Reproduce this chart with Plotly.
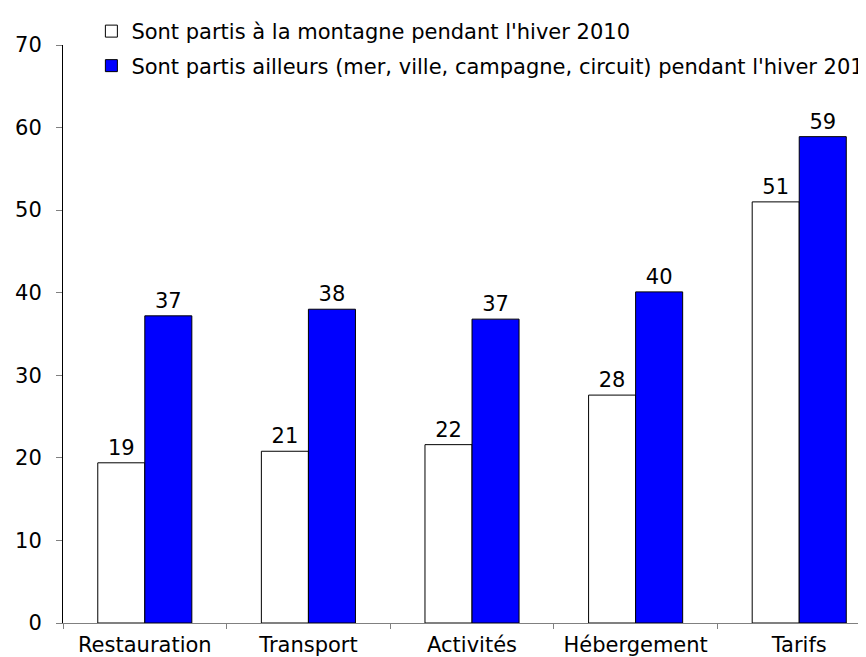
import plotly.graph_objects as go

categories = ["Restauration", "Transport", "Activités", "Hébergement", "Tarifs"]
montagne = [19.4, 20.8, 21.6, 27.6, 51.0]
ailleurs = [37.2, 38.0, 36.8, 40.1, 58.9]
montagne_labels = ["19", "21", "22", "28", "51"]
ailleurs_labels = ["37", "38", "37", "40", "59"]
name_montagne = "Sont partis à la montagne pendant l'hiver 2010"
name_ailleurs = "Sont partis ailleurs (mer, ville, campagne, circuit) pendant l'hiver 2010"
y_ticks = [0, 10, 20, 30, 40, 50, 60, 70]

FONT = "DejaVu Sans"
FS = 21

fig = go.Figure()
fig.add_trace(go.Bar(
    x=categories, y=montagne, name=name_montagne,
    text=montagne_labels, textposition="outside", cliponaxis=False,
    textfont=dict(family=FONT, size=FS, color="#000000"),
    marker=dict(color="#FFFFFF", line=dict(color="#000000", width=1)),
    legend="legend",
))
fig.add_trace(go.Bar(
    x=categories, y=ailleurs, name=name_ailleurs,
    text=ailleurs_labels, textposition="outside", cliponaxis=False,
    textfont=dict(family=FONT, size=FS, color="#000000"),
    marker=dict(color="#0000FF", line=dict(color="#000000", width=1)),
    legend="legend2",
))

fig.update_layout(
    width=866, height=657,
    margin=dict(l=55, r=0, t=37, b=42, autoexpand=False),
    paper_bgcolor="white", plot_bgcolor="white",
    font=dict(family=FONT, size=FS, color="#000000"),
    barmode="group", bargap=0.425, bargroupgap=0,
    showlegend=True,
    legend=dict(x=0.035, y=1.0234, xanchor="left", yanchor="middle",
                bgcolor="rgba(0,0,0,0)", borderwidth=0,
                font=dict(family=FONT, size=FS, color="#000000")),
    legend2=dict(x=0.035, y=0.9637, xanchor="left", yanchor="middle",
                 bgcolor="rgba(0,0,0,0)", borderwidth=0,
                 font=dict(family=FONT, size=FS, color="#000000")),
)
fig.update_xaxes(
    range=[-0.5, 4.457], showgrid=False, zeroline=False,
    showline=True, linecolor="#808080", linewidth=1,
    ticks="outside", tickson="boundaries", ticklen=5, tickcolor="#808080",
    ticklabelstandoff=3,
    tickfont=dict(family=FONT, size=FS, color="#000000"),
)
fig.update_yaxes(
    range=[0, 70], tickvals=y_ticks, showgrid=False, zeroline=False,
    showline=True, linecolor="#000000", linewidth=1,
    ticks="outside", ticklen=6, tickcolor="#808080",
    ticklabelstandoff=10,
    tickfont=dict(family=FONT, size=FS, color="#000000"),
)

fig.write_html("out.html")
